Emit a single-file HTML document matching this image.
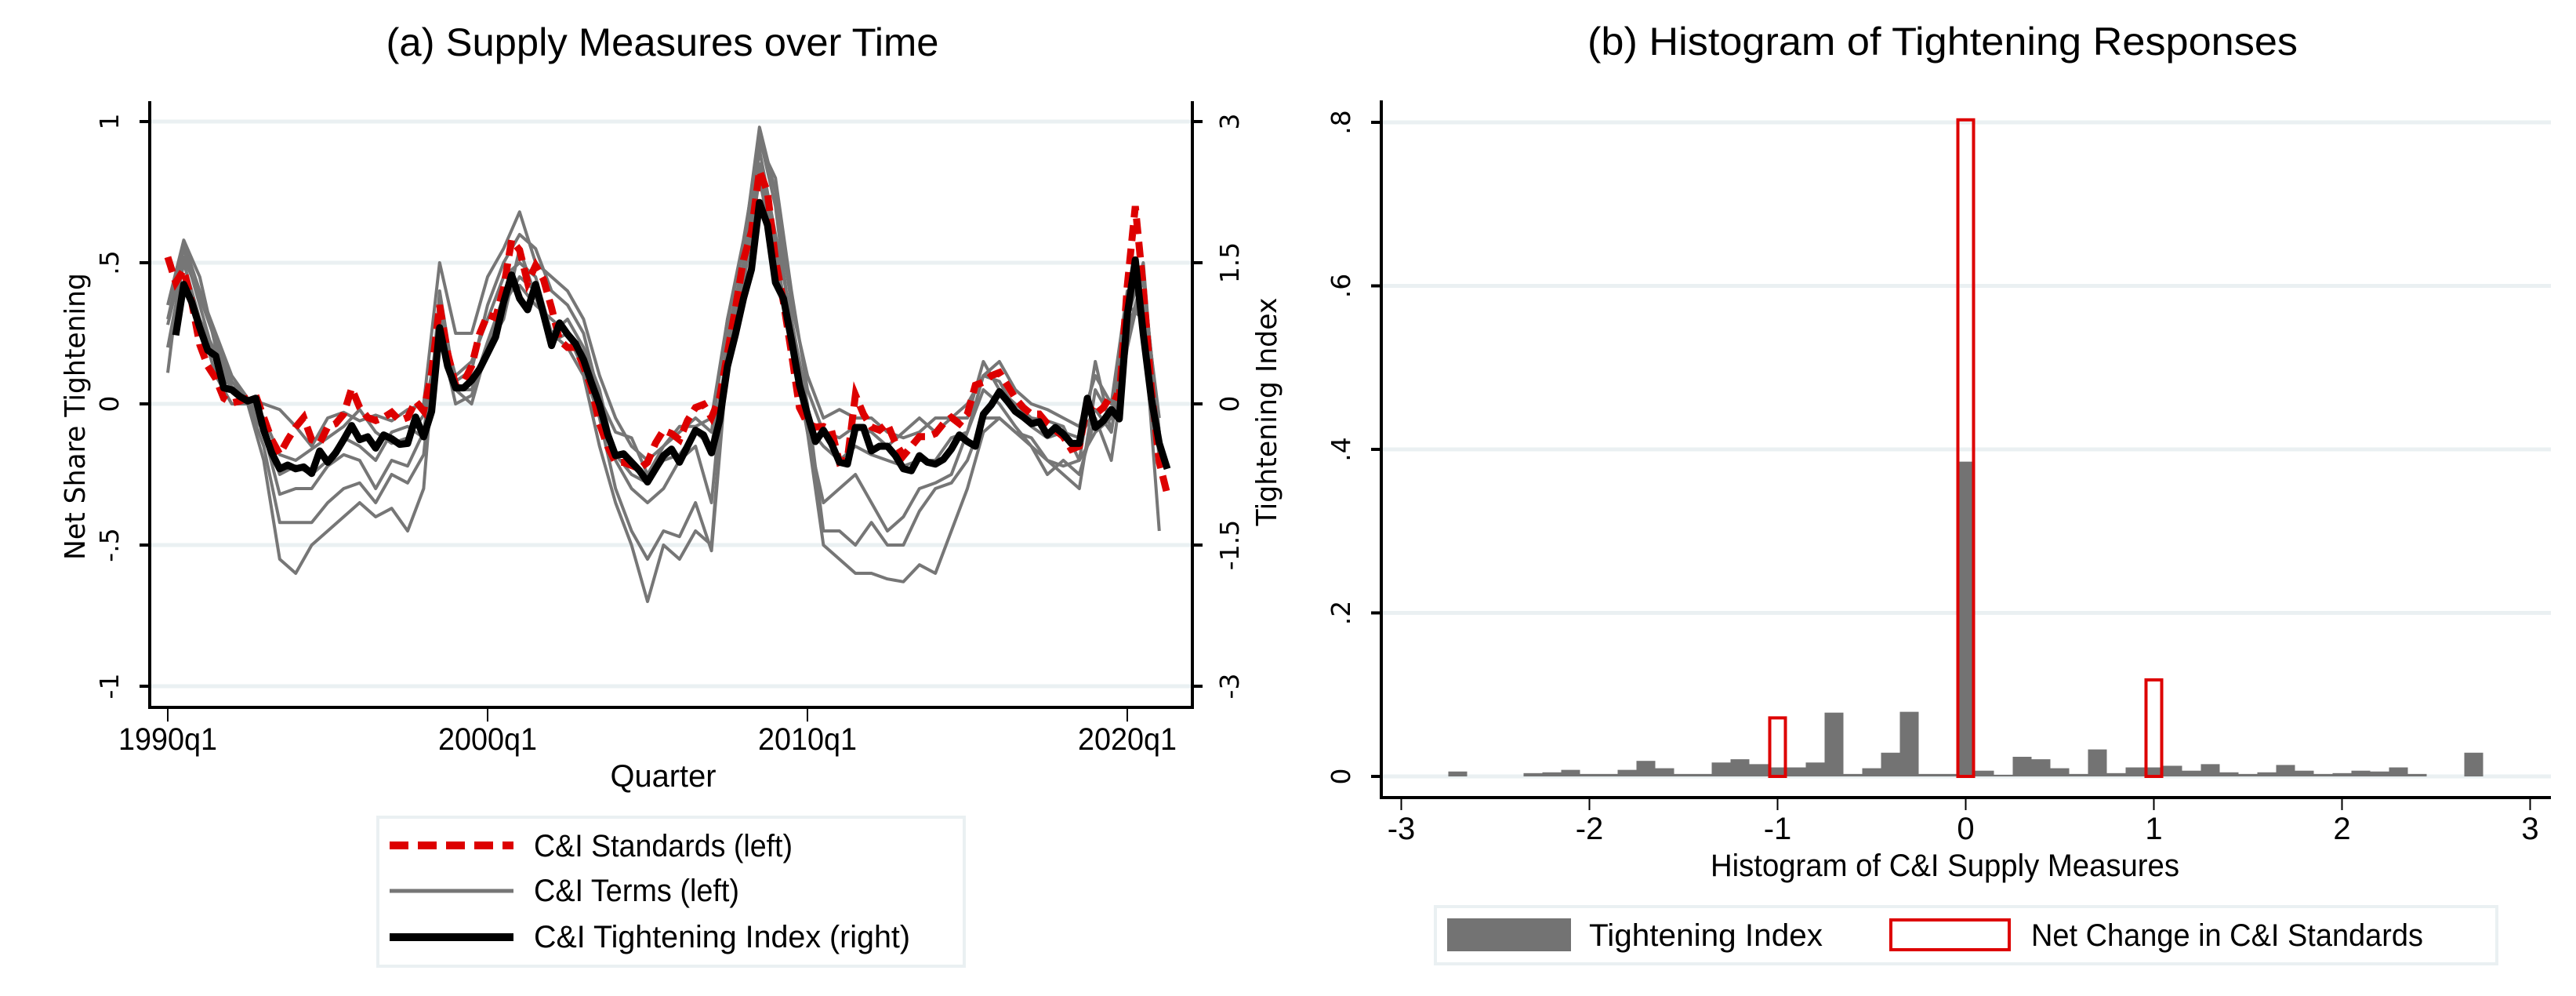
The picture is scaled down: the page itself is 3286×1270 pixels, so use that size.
<!DOCTYPE html>
<html><head><meta charset="utf-8"><style>
html,body{margin:0;padding:0;background:#fff;}
svg{display:block;}
.t{font-family:"Liberation Sans Narrow","Liberation Sans",sans-serif;fill:#000;}
.n{font-family:"DejaVu Sans","Liberation Sans",sans-serif;fill:#000;}
</style></head><body>
<svg id="chart" width="3286" height="1270" viewBox="0 0 3286 1270" xmlns="http://www.w3.org/2000/svg">
<rect x="0" y="0" width="3286" height="1270" fill="#fff"/>
<g id="left"></g>
<g id="right"></g>
</svg>
<script>
// ---------- Panel (a) data ----------
const quarterLabels = ["1990q1","2000q1","2010q1","2020q1"];
const quarterTickIdx = [0,40,80,120];
const leftTicks = [1,0.5,0,-0.5,-1];
const leftTickLabels = ["1",".5","0","-.5","-1"];
const rightTicks = [3,1.5,0,-1.5,-3];
const rightTickLabels = ["3","1.5","0","-1.5","-3"];
// Tightening index (right axis), quarters 1990q2..2021q2
const indexStart = 1;
const indexValues = [0.73,1.27,1.08,0.81,0.57,0.51,0.17,0.15,0.08,0.03,0.06,-0.28,-0.52,-0.69,-0.65,-0.69,-0.67,-0.74,-0.5,-0.62,-0.52,-0.38,-0.23,-0.38,-0.35,-0.47,-0.33,-0.37,-0.43,-0.42,-0.14,-0.35,-0.08,0.81,0.4,0.17,0.17,0.25,0.37,0.54,0.71,1.08,1.37,1.12,1.0,1.27,0.95,0.62,0.86,0.74,0.64,0.47,0.22,-0.01,-0.32,-0.55,-0.53,-0.62,-0.71,-0.83,-0.69,-0.55,-0.48,-0.62,-0.45,-0.28,-0.33,-0.52,-0.18,0.4,0.74,1.12,1.43,2.14,1.9,1.29,1.12,0.68,0.2,-0.11,-0.4,-0.28,-0.42,-0.62,-0.64,-0.25,-0.25,-0.5,-0.45,-0.45,-0.55,-0.69,-0.71,-0.55,-0.62,-0.64,-0.59,-0.48,-0.33,-0.4,-0.45,-0.11,-0.01,0.13,0.03,-0.08,-0.14,-0.21,-0.19,-0.33,-0.25,-0.32,-0.42,-0.42,0.06,-0.25,-0.18,-0.06,-0.16,0.95,1.53,0.74,0.06,-0.42,-0.69];
// C&I standards (left axis), quarters 1990q1..2021q2
const standardsValues = [0.52,0.43,0.475,0.36,0.21,0.134,0.09,0.02,0.003,0.01,0.02,0.03,-0.048,-0.127,-0.178,-0.127,-0.082,-0.048,-0.127,-0.139,-0.082,-0.07,-0.036,0.055,-0.013,-0.048,-0.059,-0.048,-0.03,-0.059,-0.048,0.01,-0.025,0.111,0.35,0.18,0.066,0.077,0.134,0.248,0.316,0.305,0.41,0.58,0.545,0.43,0.49,0.44,0.34,0.225,0.2,0.2,0.134,0.055,-0.07,-0.15,-0.207,-0.207,-0.218,-0.23,-0.207,-0.139,-0.093,-0.105,-0.127,-0.059,-0.013,-0.002,-0.048,0.02,0.18,0.34,0.51,0.61,0.827,0.75,0.51,0.36,0.18,-0.013,-0.07,-0.082,-0.08,-0.093,-0.207,-0.196,0.032,-0.036,-0.082,-0.093,-0.07,-0.139,-0.184,-0.15,-0.116,-0.116,-0.105,-0.07,-0.048,-0.07,-0.036,0.066,0.077,0.1,0.111,0.066,0.02,-0.013,-0.036,-0.036,-0.07,-0.093,-0.116,-0.161,-0.15,-0.002,-0.036,-0.013,0.032,0.02,0.418,0.70,0.41,0.055,-0.207,-0.32];
// C&I terms (left axis), sampled every 2 quarters from 1990q1
const termsStep = 2;
const terms1 = [0.11,0.57,0.4,0.25,0.1,0.02,0.0,-0.02,-0.08,-0.15,-0.05,-0.03,-0.06,-0.04,-0.06,-0.02,0.0,0.5,0.25,0.25,0.45,0.55,0.68,0.5,0.45,0.4,0.3,0.1,-0.05,-0.15,-0.2,-0.15,-0.08,-0.08,-0.05,0.3,0.55,0.98,0.75,0.35,0.1,-0.05,-0.02,-0.05,-0.05,-0.1,-0.12,-0.1,-0.05,-0.05,0.0,0.1,0.15,0.05,0.0,-0.02,-0.05,-0.08,0.1,0.0,0.4,0.4,-0.05];
const terms2 = [0.2,0.5,0.3,0.1,0.0,0.0,-0.2,-0.55,-0.6,-0.5,-0.45,-0.4,-0.35,-0.4,-0.37,-0.45,-0.3,0.4,0.05,0.0,0.2,0.35,0.45,0.4,0.25,0.2,0.1,-0.15,-0.35,-0.5,-0.7,-0.5,-0.55,-0.45,-0.5,0.2,0.5,0.85,0.55,0.2,-0.1,-0.5,-0.55,-0.6,-0.6,-0.62,-0.63,-0.57,-0.6,-0.45,-0.3,-0.1,-0.05,-0.1,-0.15,-0.2,-0.22,-0.2,-0.1,-0.05,0.35,0.3,-0.45];
const terms3 = [0.3,0.55,0.35,0.15,0.05,0.01,-0.15,-0.42,-0.42,-0.42,-0.35,-0.3,-0.28,-0.35,-0.25,-0.28,-0.18,0.35,0.05,0.05,0.22,0.38,0.42,0.35,0.3,0.25,0.12,-0.05,-0.3,-0.45,-0.55,-0.45,-0.47,-0.35,-0.52,0.15,0.45,0.9,0.6,0.3,0.0,-0.45,-0.45,-0.5,-0.42,-0.5,-0.5,-0.38,-0.3,-0.28,-0.2,-0.05,-0.05,-0.1,-0.12,-0.2,-0.25,-0.3,0.05,-0.05,0.3,0.35,-0.1];
const terms4 = [0.35,0.58,0.45,0.2,0.05,0.0,-0.1,-0.32,-0.3,-0.3,-0.22,-0.18,-0.2,-0.3,-0.2,-0.22,-0.1,0.3,0.1,0.15,0.3,0.45,0.5,0.45,0.25,0.3,0.2,0.05,-0.2,-0.3,-0.35,-0.3,-0.2,-0.15,-0.35,0.25,0.5,0.95,0.7,0.25,-0.1,-0.35,-0.3,-0.25,-0.35,-0.45,-0.4,-0.3,-0.28,-0.25,-0.1,0.05,0.0,-0.08,-0.15,-0.25,-0.2,-0.25,-0.05,-0.2,0.2,0.45,-0.1];
const terms5 = [0.2,0.42,0.3,0.18,0.06,0.02,-0.05,-0.18,-0.2,-0.16,-0.12,-0.08,-0.02,-0.1,-0.14,-0.12,-0.04,0.25,0.0,0.03,0.2,0.3,0.55,0.38,0.22,0.25,0.17,0.0,-0.18,-0.25,-0.28,-0.2,-0.18,-0.1,-0.15,0.18,0.42,0.8,0.5,0.2,-0.08,-0.15,-0.2,-0.15,-0.18,-0.2,-0.22,-0.2,-0.2,-0.12,-0.1,0.1,0.08,-0.02,-0.08,-0.12,-0.1,-0.12,-0.02,-0.1,0.3,0.5,-0.2];
const terms6 = [0.28,0.52,0.38,0.22,0.08,0.01,-0.08,-0.25,-0.22,-0.25,-0.2,-0.12,-0.15,-0.2,-0.1,-0.08,-0.12,0.28,0.08,0.12,0.35,0.5,0.6,0.55,0.4,0.35,0.25,0.02,-0.1,-0.12,-0.25,-0.15,-0.1,-0.05,-0.1,0.3,0.58,0.92,0.8,0.4,0.05,-0.1,-0.12,-0.08,-0.1,-0.15,-0.1,-0.05,-0.1,-0.05,-0.05,0.15,0.05,0.0,-0.05,-0.06,-0.08,-0.2,0.15,-0.1,0.25,0.45,-0.1];
const termsSeries = [terms1,terms2,terms3,terms4,terms5,terms6];

// ---------- Panel (b) data ----------
const binCenters = [-2.7,-2.3,-2.2,-2.1,-2.0,-1.9,-1.8,-1.7,-1.6,-1.5,-1.4,-1.3,-1.2,-1.1,-1.0,-0.9,-0.8,-0.7,-0.6,-0.5,-0.4,-0.3,-0.2,-0.1,0.0,0.1,0.2,0.3,0.4,0.5,0.6,0.7,0.8,0.9,1.0,1.1,1.2,1.3,1.4,1.5,1.6,1.7,1.8,1.9,2.0,2.1,2.2,2.3,2.4,2.7];
const indexDensity = [0.006,0.004,0.005,0.008,0.003,0.003,0.008,0.019,0.010,0.003,0.003,0.017,0.021,0.015,0.011,0.011,0.017,0.078,0.003,0.010,0.029,0.079,0.003,0.003,0.385,0.007,0.002,0.024,0.021,0.010,0.003,0.033,0.004,0.011,0.011,0.013,0.007,0.015,0.005,0.003,0.005,0.014,0.007,0.003,0.004,0.007,0.006,0.011,0.003,0.029];
const stdCenters = [-1,0,1];
const stdDensity = [0.0735,0.805,0.120];
const histXTicks = [-3,-2,-1,0,1,2,3];
const histYTicks = [0,0.2,0.4,0.6,0.8];
const histYLabels = ["0",".2",".4",".6",".8"];

const NS = "http://www.w3.org/2000/svg";
function el(parent, tag, attrs, text){
  const e = document.createElementNS(NS, tag);
  for (const k in attrs) e.setAttribute(k, attrs[k]);
  if (text !== undefined) e.textContent = text;
  parent.appendChild(e);
  return e;
}
const GRID = "#eaf0f2";

// ================= Panel (a) =================
const L = document.getElementById('left');
const xq = i => 214 + 10.2 * i;
const yL = v => 515 - 360 * v;
const yR = r => yL(r / 3);
const PL = 191, PR = 1521, PT = 129, PB = 902;

let t = el(L,'text',{x:845,y:71,'text-anchor':'middle','font-size':50,class:'t',textLength:705,lengthAdjust:'spacingAndGlyphs'},'(a) Supply Measures over Time');



leftTicks.forEach((v,k)=>{
  const g = el(L,'line',{x1:PL,x2:PR,y1:yL(v),y2:yL(v),stroke:GRID,'stroke-width':5});
  
  
  const tk = el(L,'line',{x1:PL-13,x2:PL,y1:yL(v),y2:yL(v),stroke:'#000','stroke-width':4});
  
  
  const lb = el(L,'text',{x:0,y:0,'text-anchor':'middle','font-size':33,class:'n',transform:`translate(151,${yL(v)}) rotate(-90)`},leftTickLabels[k]);
  
  
});
rightTicks.forEach((r,k)=>{
  const tk = el(L,'line',{x1:PR,x2:PR+13,y1:yR(r),y2:yR(r),stroke:'#000','stroke-width':4});
  
  
  const lb = el(L,'text',{x:0,y:0,'text-anchor':'middle','font-size':33,class:'n',transform:`translate(1580,${yR(r)}) rotate(-90)`},rightTickLabels[k]);
  
  
});
quarterTickIdx.forEach((q,k)=>{
  const tk = el(L,'line',{x1:xq(q),x2:xq(q),y1:PB,y2:PB+18,stroke:'#000','stroke-width':2});
  
  
  const lb = el(L,'text',{x:xq(q),y:956,'text-anchor':'middle','font-size':40,class:'t',textLength:126,lengthAdjust:'spacingAndGlyphs'},quarterLabels[k]);
  
  
});
let ax = el(L,'path',{d:`M${PL},${PT} V${PB} H${PR} V${PT}`,fill:'none',stroke:'#000','stroke-width':4});



t = el(L,'text',{x:846,y:1003,'text-anchor':'middle','font-size':40,class:'t',textLength:135,lengthAdjust:'spacingAndGlyphs'},'Quarter');


t = el(L,'text',{x:0,y:0,'text-anchor':'middle','font-size':36,class:'n',textLength:366,lengthAdjust:'spacingAndGlyphs',transform:'translate(108,531) rotate(-90)'},'Net Share Tightening');


t = el(L,'text',{x:0,y:0,'text-anchor':'middle','font-size':36,class:'n',textLength:291,lengthAdjust:'spacingAndGlyphs',transform:'translate(1628,525) rotate(-90)'},'Tightening Index');



// gray terms
termsSeries.forEach((s,k)=>{
  const d = s.map((v,j)=>(j?'L':'M')+xq(j*termsStep).toFixed(1)+','+yL(v).toFixed(1)).join(' ');
  const p = el(L,'path',{d:d,fill:'none',stroke:'#767676','stroke-width':4,'stroke-linejoin':'round'});
  
  
});
// red standards
{
  const d = standardsValues.map((v,j)=>(j?'L':'M')+xq(j).toFixed(1)+','+yL(v).toFixed(1)).join(' ');
  const p = el(L,'path',{d:d,fill:'none',stroke:'#dd0000','stroke-width':9,'stroke-dasharray':'20 10'});
  
  
}
// black index
{
  const d = indexValues.map((r,j)=>(j?'L':'M')+xq(j+indexStart).toFixed(1)+','+yR(r).toFixed(1)).join(' ');
  const p = el(L,'path',{d:d,fill:'none',stroke:'#000','stroke-width':9,'stroke-linejoin':'round'});
  
  
}
// legend (a)
{
  const g = el(L,'g',{});
  
  
  el(g,'rect',{x:482,y:1042,width:748,height:190,fill:'#fff',stroke:GRID,'stroke-width':4});
  let s = el(g,'line',{x1:497,x2:655,y1:1078,y2:1078,stroke:'#dd0000','stroke-width':10,'stroke-dasharray':'24 12'});
  
  
  s = el(g,'text',{x:681,y:1092,'font-size':40,class:'t',textLength:330,lengthAdjust:'spacingAndGlyphs'},'C&I Standards (left)');
  
  
  s = el(g,'line',{x1:497,x2:655,y1:1136,y2:1136,stroke:'#767676','stroke-width':5});
  
  
  s = el(g,'text',{x:681,y:1149,'font-size':40,class:'t',textLength:262,lengthAdjust:'spacingAndGlyphs'},'C&I Terms (left)');
  
  
  s = el(g,'line',{x1:497,x2:655,y1:1195,y2:1195,stroke:'#000','stroke-width':10});
  
  
  s = el(g,'text',{x:681,y:1208,'font-size':40,class:'t',textLength:480,lengthAdjust:'spacingAndGlyphs'},'C&I Tightening Index (right)');
  
  
}

// ================= Panel (b) =================
const R = document.getElementById('right');
const xH = u => 2507.5 + 240 * u;
const yH = d => 990 - 1042.5 * d;
const HL = 1762, HR = 3254, HT = 128, HB = 1017;
const BW = 0.1;

t = el(R,'text',{x:2478,y:70,'text-anchor':'middle','font-size':50,class:'t',textLength:906,lengthAdjust:'spacingAndGlyphs'},'(b) Histogram of Tightening Responses');



histYTicks.forEach((d,k)=>{
  const g = el(R,'line',{x1:HL,x2:HR,y1:yH(d),y2:yH(d),stroke:GRID,'stroke-width':5});
  
  
  const tk = el(R,'line',{x1:HL-13,x2:HL,y1:yH(d),y2:yH(d),stroke:'#000','stroke-width':4});
  
  
  const lb = el(R,'text',{x:0,y:0,'text-anchor':'middle','font-size':33,class:'n',transform:`translate(1722,${yH(d)}) rotate(-90)`},histYLabels[k]);
  
  
});
histXTicks.forEach(u=>{
  const tk = el(R,'line',{x1:xH(u),x2:xH(u),y1:HB,y2:HB+16,stroke:'#000','stroke-width':2});
  
  
  const lb = el(R,'text',{x:xH(u),y:1070,'text-anchor':'middle','font-size':40,class:'t'},String(u));
  
  
});
binCenters.forEach((c,k)=>{
  const top = yH(indexDensity[k]);
  const b = el(R,'rect',{x:xH(c-BW/2),y:top,width:240*BW,height:Math.max(2,yH(0)-top),fill:'#737373'});
  
  
});
stdCenters.forEach((c,k)=>{
  const top = yH(stdDensity[k]);
  const b = el(R,'rect',{x:xH(c-BW/2)+2,y:top+2,width:240*BW-4,height:yH(0)-top-2,fill:'none',stroke:'#dd0000','stroke-width':4});
  
  
});
ax = el(R,'path',{d:`M${HL},${HT} V${HB} H${HR}`,fill:'none',stroke:'#000','stroke-width':4});


t = el(R,'text',{x:2481,y:1117,'text-anchor':'middle','font-size':40,class:'t',textLength:598,lengthAdjust:'spacingAndGlyphs'},'Histogram of C&I Supply Measures');


{
  const g = el(R,'g',{});
  
  
  el(g,'rect',{x:1831,y:1156,width:1354,height:73,fill:'#fff',stroke:GRID,'stroke-width':4});
  let s = el(g,'rect',{x:1846,y:1171,width:158,height:42,fill:'#737373'});
  
  
  s = el(g,'text',{x:2027,y:1206,'font-size':40,class:'t',textLength:298,lengthAdjust:'spacingAndGlyphs'},'Tightening Index');
  
  
  s = el(g,'rect',{x:2412,y:1173,width:151,height:38,fill:'#fff',stroke:'#dd0000','stroke-width':4});
  
  
  s = el(g,'text',{x:2591,y:1206,'font-size':40,class:'t',textLength:500,lengthAdjust:'spacingAndGlyphs'},'Net Change in C&I Standards');
  
  
}
</script>
</body></html>
